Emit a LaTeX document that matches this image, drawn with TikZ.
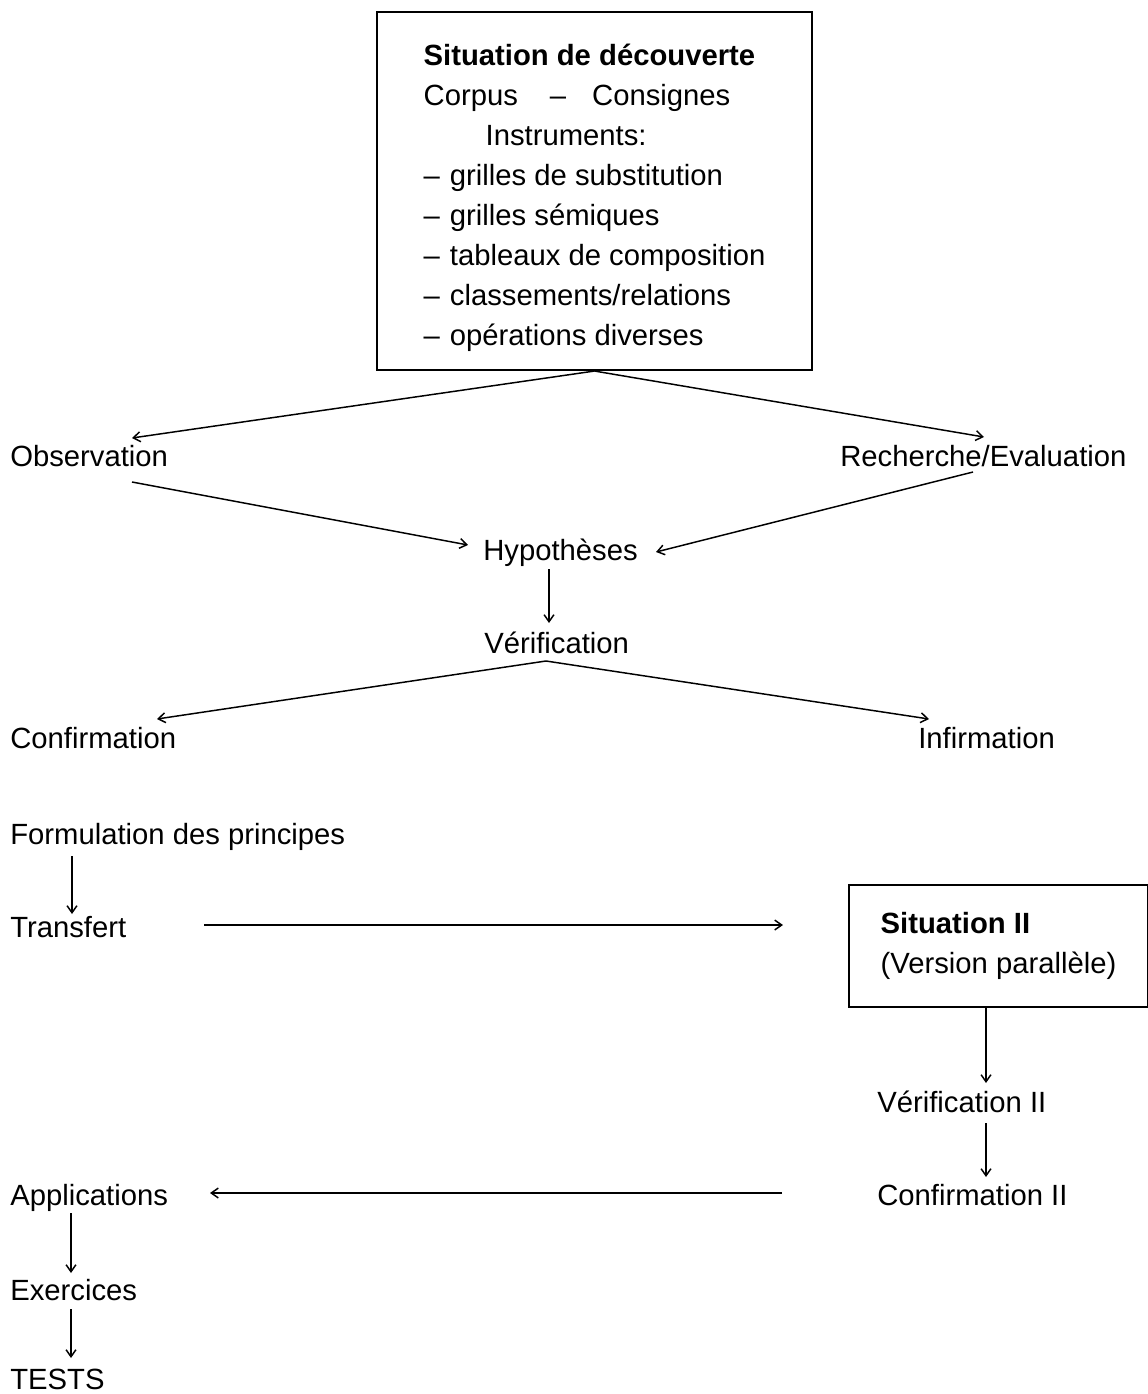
\documentclass[tikz,border=0pt]{standalone}
\usepackage{fontspec}
\setmainfont{Liberation Sans}
\usetikzlibrary{arrows.meta}

\begin{document}
\begin{tikzpicture}[x=0.025cm,y=-0.025cm,
  every node/.style={font=\fontsize{20.8}{28.45}\selectfont},
  etiq/.style={anchor=base west,inner sep=0pt},
  boite/.style={draw,line width=1.4pt,align=left,inner sep=0pt},
  fleche/.style={-{Straight Barb[length=5pt,width=7pt]},line width=1.05pt}]
\useasboundingbox (0,0) rectangle (1148,1394);
\node(disc) at (594.5,191)[boite,minimum width=10.875cm,minimum height=8.95cm]
  {\rule{0pt}{25pt}\textbf{Situation de découverte}\\
   Corpus\hspace{0.8cm}--\hspace{0.65cm}Consignes\\
   \hspace*{1.55cm}Instruments:\\
   --\hspace{0.25cm}grilles de substitution\\
   --\hspace{0.25cm}grilles sémiques\\
   --\hspace{0.25cm}tableaux de composition\\
   --\hspace{0.25cm}classements/relations\\
   --\hspace{0.25cm}opérations diverses};
\node(obs) at (10,466)[etiq]     {Observation};
\node(rech) at (840,466)[etiq]   {Recherche/Evaluation};
\node(hyp) at (483,560)[etiq]    {Hypothèses};
\node(verif) at (484,653)[etiq]  {Vérification};
\node(conf) at (10,748)[etiq]    {Confirmation};
\node(infirm) at (918,748)[etiq] {Infirmation};
\node(formul) at (10,844)[etiq]  {Formulation des principes};
\node(transf) at (10,937)[etiq]  {Transfert};
\node(sit) at (848,946)[boite,anchor=west,minimum width=7.475cm,minimum height=3.05cm]
  {\textbf{Situation II}\\(Version parallèle)};
\node(verif2) at (877,1112)[etiq] {Vérification II};
\node(conf2) at (877,1205)[etiq]  {Confirmation II};
\node(appl) at (10,1205)[etiq]    {Applications};
\node(exer) at (10,1300)[etiq]    {Exercices};
\node(tests) at (10,1389)[etiq]   {TESTS};
\path [fleche]
  (disc.south)                           edge ([shift={(122,-28)}]obs.base west)
  (disc.south)                           edge ([shift={(144,-29)}]rech.base west)
  ([shift={(122,16)}]obs.base west)      edge ([shift={(-15,-15)}]hyp.base west)
  ([shift={(133,6)}]rech.base west)      edge ([shift={(18,-8)}]hyp.base east)
  ([shift={(66,9)}]hyp.base west)        edge ([shift={(65,-30)}]verif.base west)
  ([shift={(62,8)}]verif.base west)      edge ([shift={(147,-29)}]conf.base west)
  ([shift={(62,8)}]verif.base west)      edge ([shift={(11,-29)}]infirm.base west)
  ([shift={(62,12)}]formul.base west)    edge ([shift={(62,-23)}]transf.base west)
  ([shift={(194,-12)}]transf.base west)  edge ([shift={(-65,-21)}]sit.west)
  ([shift={(138,0)}]sit.south west)      edge ([shift={(109,-29)}]verif2.base west)
  ([shift={(109,11)}]verif2.base west)   edge ([shift={(109,-28)}]conf2.base west)
  ([shift={(-95,-12)}]conf2.base west)   edge ([shift={(200,-12)}]appl.base west)
  ([shift={(61,8)}]appl.base west)       edge ([shift={(61,-27)}]exer.base west)
  ([shift={(61,9)}]exer.base west)       edge ([shift={(61,-31)}]tests.base west);
\end{tikzpicture}
\end{document}
